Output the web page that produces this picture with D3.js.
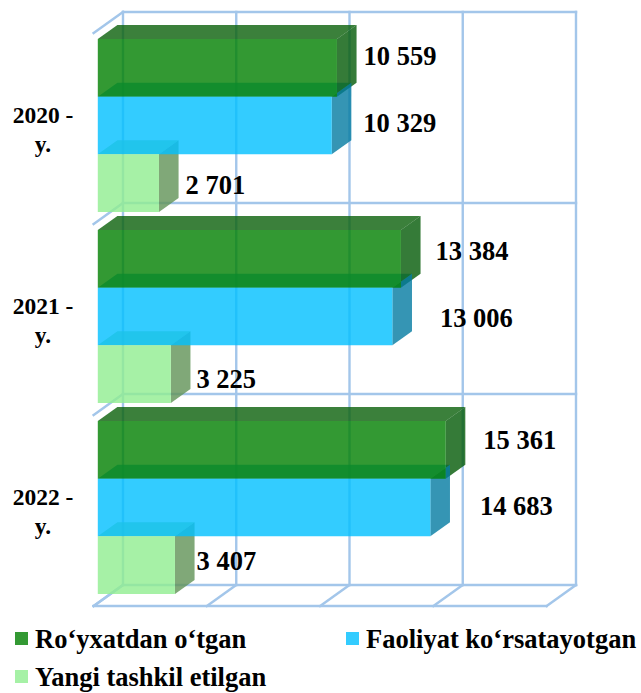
<!DOCTYPE html>
<html>
<head>
<meta charset="utf-8">
<script src="https://cdn.jsdelivr.net/npm/d3@7"></script>
<style>
  html, body { margin: 0; padding: 0; background: #ffffff; }
  svg { display: block; }
  text { font-family: "Liberation Serif", "Times New Roman", serif; font-weight: bold; fill: #000; }
</style>
</head>
<body>
<svg id="chart" width="641" height="693"></svg>
<script>
// Categories, series and values
const years = ["2020", "2021", "2022"];
const yearLabels = [["2020 -", "y."], ["2021 -", "y."], ["2022 -", "y."]];
const seriesNames = ["Ro‘yxatdan o‘tgan", "Faoliyat ko‘rsatayotgan", "Yangi tashkil etilgan"];
const registered = [10559, 13384, 15361];
const operating = [10329, 13006, 14683];
const newlyCreated = [2701, 3225, 3407];
const tickValues = [0, 5000, 10000, 15000, 20000];

const seriesValues = [registered, operating, newlyCreated];

// Face colours per series (drawn at 0.8 opacity)
const faceColors = [
  { front: "#008000", top: "#0a600a", side: "#035a06" },
  { front: "#00bfff", top: "#37b4d7", side: "#027aa1" },
  { front: "#90ee90", top: "#8ccf88", side: "#609256" }
];
const faceOpacity = 0.8;

// Small per-label offsets (dx, dy) relative to the bar end
const labelNudge = [
  [[7, -12], [12, -3], [7, 1.5]],
  [[15, -7.5], [28, 1.5], [6, 4.5]],
  [[18, -10], [30, -2], [2, -4.5]]
];

const svg = d3.select("#chart");

// Back wall geometry and oblique depth projection
const wallTop = 12, wallBottom = 585;
const x = d3.scaleLinear().domain([0, 20000]).range([123, 576]);
const band = d3.scaleBand().domain(years).range([wallTop, wallBottom]).padding(0);
const inner = d3.scaleBand().domain(d3.range(3)).range([9, band.bandwidth() - 9]).padding(0);
const depthDX = -1.4, depthDY = 1;
const floorDepth = 21;
const barBack = 4, barFront = 18;

const P = (px, py, d) => [px + depthDX * d, py + depthDY * d];
const poly = pts => "M" + pts.map(p => p[0].toFixed(2) + "," + p[1].toFixed(2)).join("L") + "Z";

// Gridlines: back wall, left wall, floor
const grid = svg.append("g")
  .attr("fill", "none")
  .attr("stroke", "#a3c6ea")
  .attr("stroke-width", 2.4)
  .attr("stroke-linecap", "square");

tickValues.forEach(t => {
  grid.append("line")
    .attr("x1", x(t)).attr("y1", wallTop)
    .attr("x2", x(t)).attr("y2", wallBottom);
  const a = P(x(t), wallBottom, 0), b = P(x(t), wallBottom, floorDepth);
  grid.append("line").attr("x1", a[0]).attr("y1", a[1]).attr("x2", b[0]).attr("y2", b[1]);
});

const boundaries = [wallTop].concat(years.map(y => band(y) + band.bandwidth()));
boundaries.forEach(yb => {
  grid.append("line")
    .attr("x1", x(0)).attr("y1", yb)
    .attr("x2", x(20000)).attr("y2", yb);
  const a = P(x(0), yb, 0), b = P(x(0), yb, floorDepth);
  grid.append("line").attr("x1", a[0]).attr("y1", a[1]).attr("x2", b[0]).attr("y2", b[1]);
});
{
  const a = P(x(0), wallBottom, floorDepth), b = P(x(20000), wallBottom, floorDepth);
  grid.append("line").attr("x1", a[0]).attr("y1", a[1]).attr("x2", b[0]).attr("y2", b[1]);
}

// 3D bars: top faces, then side faces, then front faces
const bars = [];
years.forEach((yr, ci) => {
  seriesValues.forEach((vals, si) => {
    const y0 = band(yr) + inner(si);
    const y1 = y0 + inner.bandwidth();
    bars.push({ ci, si, v: vals[ci], y0, y1 });
  });
});

const barLayer = svg.append("g").attr("fill-opacity", faceOpacity);

years.forEach((yr, ci) => {
  const group = bars.filter(b => b.ci === ci);
  const g = barLayer.append("g");
  group.forEach(b => {
    const x0 = x(0), xv = x(b.v);
    g.append("path")
      .attr("d", poly([P(x0, b.y0, barBack), P(xv, b.y0, barBack), P(xv, b.y0, barFront), P(x0, b.y0, barFront)]))
      .attr("fill", faceColors[b.si].top);
  });
  group.forEach(b => {
    const xv = x(b.v);
    g.append("path")
      .attr("d", poly([P(xv, b.y0, barBack), P(xv, b.y1, barBack), P(xv, b.y1, barFront), P(xv, b.y0, barFront)]))
      .attr("fill", faceColors[b.si].side);
  });
  group.forEach(b => {
    const x0 = x(0), xv = x(b.v);
    g.append("path")
      .attr("d", poly([P(x0, b.y0, barFront), P(xv, b.y0, barFront), P(xv, b.y1, barFront), P(x0, b.y1, barFront)]))
      .attr("fill", faceColors[b.si].front);
  });
});

// Value labels
const fmt = v => d3.format(",")(v).replace(/,/g, " ");
svg.append("g")
  .selectAll("text")
  .data(bars)
  .join("text")
  .attr("x", b => P(x(b.v), 0, barBack)[0] + labelNudge[b.ci][b.si][0])
  .attr("y", b => (b.y0 + b.y1) / 2 + barFront + labelNudge[b.ci][b.si][1] + 9)
  .attr("font-size", 26.5)
  .text(b => fmt(b.v));

// Category labels
const catG = svg.append("g").attr("text-anchor", "middle").attr("font-size", 23.5);
years.forEach((yr, ci) => {
  const cy = band(yr) + band.bandwidth() / 2 + barFront;
  const t = catG.append("text").attr("x", 43).attr("y", cy - 2.5);
  t.append("tspan").attr("x", 43).text(yearLabels[ci][0]);
  t.append("tspan").attr("x", 43).attr("dy", 29).text(yearLabels[ci][1]);
});

// Legend
const legendPos = [[15, 639], [346, 639], [15, 677]];
const legend = svg.append("g").attr("font-size", 26.5);
seriesNames.forEach((name, si) => {
  const [lx, ly] = legendPos[si];
  legend.append("rect")
    .attr("x", lx).attr("y", ly - 7)
    .attr("width", 13).attr("height", 13)
    .attr("fill", faceColors[si].front)
    .attr("fill-opacity", faceOpacity);
  legend.append("text")
    .attr("x", lx + 20).attr("y", ly + 9)
    .text(name);
});
</script>
</body>
</html>
